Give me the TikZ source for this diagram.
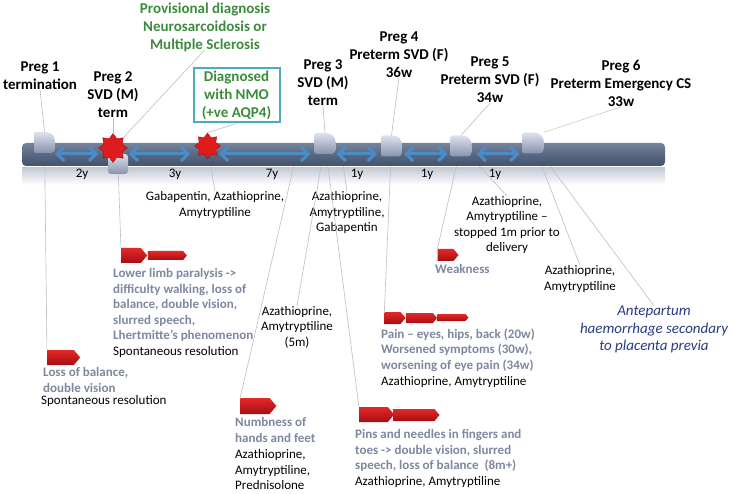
\documentclass[tikz,border=0pt]{standalone}
\usepackage{fontspec}
\setmainfont{Carlito}
\usetikzlibrary{shapes.geometric,shapes.symbols,arrows.meta,calc}
\definecolor{gtext}{RGB}{58,140,58}
\definecolor{boxteal}{RGB}{75,172,190}
\definecolor{symcol}{RGB}{125,135,160}
\definecolor{navy}{RGB}{40,60,130}
\definecolor{arrblue}{RGB}{74,140,200}
\definecolor{leadgray}{RGB}{190,190,190}
\definecolor{leadtan}{RGB}{215,200,175}
\definecolor{bartop}{RGB}{118,132,155}
\definecolor{barmid}{RGB}{88,104,130}
\definecolor{barbot}{RGB}{68,83,108}
\definecolor{refl}{RGB}{196,203,214}
\definecolor{pglight}{RGB}{222,226,238}
\definecolor{pgdark}{RGB}{134,146,174}
\definecolor{redlight}{RGB}{228,40,40}
\definecolor{reddark}{RGB}{165,14,20}
\definecolor{starred}{RGB}{222,28,28}
\begin{document}
\begin{tikzpicture}[x=1pt,y=-1pt,
  hdr/.style={font=\fontsize{15}{18}\selectfont\bfseries, align=center, inner sep=0pt},
  body/.style={font=\fontsize{13}{15.5}\selectfont, align=center, inner sep=0pt},
  bodyl/.style={font=\fontsize{13}{15.5}\selectfont, align=left, inner sep=0pt, anchor=north west},
  sym/.style={font=\fontsize{13}{15.5}\selectfont\bfseries, text=symcol, align=left, inner sep=0pt, anchor=north west},
  ital/.style={font=\fontsize{15}{17.5}\selectfont\itshape, text=navy, align=center, inner sep=0pt},
  lead/.style={draw=leadgray, line width=0.6pt},
  redarr/.style={shape=signal, signal to=east, signal from=nowhere, signal pointer angle=100, inner sep=0pt, top color=redlight, bottom color=reddark, draw=none},
  pshape/.style={rectangle, minimum width=21pt, minimum height=21pt, inner sep=0pt, draw=none,
    path picture={\shade[top color=pglight, bottom color=pgdark]
      (path picture bounding box.south west) [rounded corners=2pt]
      -- (path picture bounding box.north west) [rounded corners=9pt]
      -- (path picture bounding box.north east) [rounded corners=4pt]
      -- (path picture bounding box.south east) [rounded corners=2pt]
      -- cycle;}},
  sqshape/.style={rectangle, minimum size=20pt, inner sep=0pt, rounded corners=3pt, top color=pglight, bottom color=pgdark, draw=none},
  starst/.style={star, star points=8, star point ratio=1.45, minimum size=29pt, inner sep=0pt, fill=starred, draw=reddark, line width=0.4pt},
  dbl/.style={{Straight Barb[length=7pt,width=14pt]}-{Straight Barb[length=7pt,width=14pt]}, draw=arrblue, line width=3pt},
  yl/.style={font=\fontsize{13}{15.5}\selectfont, inner sep=0pt}
]
\useasboundingbox (0,0) rectangle (733,494);

% reflection under bar
\shade[top color=refl, bottom color=white] (22,168) rectangle (665,185);

% named anchor points
\coordinate (ay) at (0,154);
\coordinate (b7) at (294,165);
\coordinate (b1y) at (342,158);

% text blocks
\node[hdr] (h1) at (40,75.5) {Preg 1\\termination};
\node[hdr] (h2) at (113,95) {Preg 2\\SVD (M)\\term};
\node[hdr] (h3) at (323,82.5) {Preg 3\\SVD (M)\\term};
\node[hdr] (h4) at (399,55) {Preg 4\\Preterm SVD (F)\\36w};
\node[hdr] (h5) at (490,80) {Preg 5\\Preterm SVD (F)\\34w};
\node[hdr] (h6) at (621,83.5) {Preg 6\\Preterm Emergency CS\\33w};
\node[hdr, text=gtext] (prov) at (205,27) {Provisional diagnosis\\Neurosarcoidosis or\\Multiple Sclerosis};
\node[hdr, text=gtext, draw=boxteal, line width=2pt, minimum width=86pt, minimum height=54pt] (nmo) at (236.5,95.5) {Diagnosed\\with NMO\\(+ve AQP4)};

\node[body] (gab) at (215,205) {Gabapentin, Azathioprine,\\Amytryptiline};
\node[body] (agg) at (347,213) {Azathioprine,\\Amytryptiline,\\Gabapentin};
\node[body] (a5m) at (297,327) {Azathioprine,\\Amytryptiline\\(5m)};
\node[body] (stop) at (507,225) {Azathioprine,\\Amytryptiline –\\stopped 1m prior to\\delivery};
\node[body] (a6) at (580,279) {Azathioprine,\\Amytryptiline};
\node[ital] (ante) at (654,329.5) {Antepartum\\haemorrhage secondary\\to placenta previa};

\node[sym] (llt) at (113,268.5) {Lower limb paralysis ->\\difficulty walking, loss of\\balance, double vision,\\slurred speech,\\Lhertmitte’s phenomenon};
\node[bodyl] (llr) at (113,346.5) {Spontaneous resolution};
\node[sym] (lbt) at (43,367.5) {Loss of balance,\\double vision};
\node[bodyl] (lbr) at (41,395.5) {Spontaneous resolution};
\node[sym] (nbt) at (235,417.5) {Numbness of\\hands and feet};
\node[bodyl] (nbr) at (235,449.5) {Azathioprine,\\Amytryptiline,\\Prednisolone};
\node[sym] (pat) at (381,328.5) {Pain – eyes, hips, back (20w)\\Worsened symptoms (30w),\\worsening of eye pain (34w)};
\node[bodyl] (par) at (381,376.5) {Azathioprine, Amytryptiline};
\node[sym] (pit) at (355,429.5) {Pins and needles in fingers and\\toes -> double vision, slurred\\speech, loss of balance\ \ (8m+)};
\node[bodyl] (pir) at (355,476.5) {Azathioprine, Amytryptiline};
\node[sym] (wkt) at (435,264.5) {Weakness};

% red arrows
\node[redarr, minimum width=26pt, minimum height=15pt] (ll1) at (131,255.5) {};
\node[redarr, minimum width=39pt, minimum height=9pt] (ll2) at (165.5,255.5) {};
\node[redarr, minimum width=33pt, minimum height=15pt] (lb1) at (60.5,357.5) {};
\node[redarr, minimum width=36pt, minimum height=16pt] (nb1) at (255,406) {};
\node[redarr, minimum width=21pt, minimum height=12pt] (pa1) at (392.5,318) {};
\node[redarr, minimum width=31pt, minimum height=10pt] (pa2) at (419.5,318) {};
\node[redarr, minimum width=31pt, minimum height=7pt] (pa3) at (451.5,317.5) {};
\node[redarr, minimum width=35pt, minimum height=15pt] (pi1) at (373.5,414.5) {};
\node[redarr, minimum width=46pt, minimum height=12pt] (pi2) at (414,415) {};
\node[redarr, minimum width=21pt, minimum height=12pt] (wk1) at (445.5,255) {};

% marker positions
\coordinate (p1c) at (44.5,142.5);
\coordinate (sq2c) at (118,164);
\coordinate (p3c) at (325,143.5);
\coordinate (p4c) at (391.5,146);
\coordinate (p5c) at (461,146);
\coordinate (p6c) at (533,143);
\coordinate (st2c) at (113,148);
\coordinate (st3c) at (207.5,146);

% lower leader lines (the bar covers their upper ends)
\draw[lead] (p1c) -- (lb1.north west);
\draw[lead] (sq2c) -- (ll1.north west);
\draw[lead] (st3c) -- (gab.north);
\draw[lead] (b7) -- (nb1.north west);
\draw[lead] (p3c) -- (a5m.north);
\draw[lead] (p3c) -- (pi1.north west);
\draw[lead] (b1y) -- (agg.north);
\draw[lead] (p4c) -- (pa1.north west);
\draw[lead] (p5c) -- (wk1.north west);
\draw[lead] (p5c) -- (stop.north);
\draw[lead] (p6c) -- (a6.north);
\draw[lead] (p6c) -- (ante.north);

% timeline bar
\node[rectangle, minimum width=643pt, minimum height=23pt, inner sep=0pt, rounded corners=4pt,
      top color=bartop, bottom color=barbot, middle color=barmid, draw=none] (bar) at (343.5,154.5) {};

% markers
\node[sqshape] (sq2) at (sq2c) {};
\node[pshape] (p1) at (p1c) {};
\node[pshape] (p3) at (p3c) {};
\node[pshape] (p4) at (p4c) {};
\node[pshape] (p5) at (p5c) {};
\node[pshape] (p6) at (p6c) {};
\node[starst] (st2) at (st2c) {};
\node[starst, minimum size=26pt] (st3) at (st3c) {};

% interval arrows
\draw[dbl] (p1.east |- ay) -- (st2.west |- ay);
\draw[dbl] ([xshift=1pt]st2.east |- ay) -- ([xshift=-4pt]st3.west |- ay);
\draw[dbl] ([xshift=-2pt]st3.east |- ay) -- ([xshift=-4pt]p3.west |- ay);
\draw[dbl] ([xshift=1pt]p3.east |- ay) -- ([xshift=-4pt]p4.west |- ay);
\draw[dbl] ([xshift=2pt]p4.east |- ay) -- ([xshift=-3pt]p5.west |- ay);
\draw[dbl] ([xshift=5pt]p5.east |- ay) -- ([xshift=-3pt]p6.west |- ay);

% interval labels
\node[yl] (y1) at (82,174) {2y};
\node[yl] (y2) at (175,174) {3y};
\node[yl] (y3) at (272,174) {7y};
\node[yl] (y4) at (357,174) {1y};
\node[yl] (y5) at (427,174) {1y};
\node[yl] (y6) at (495,174) {1y};

% upper leader lines
\draw[lead] (h1.south) -- (p1.north);
\draw[lead] (h2.south) -- (st2.north);
\draw[lead] ([yshift=2pt]prov.south) -- (st2.north east);
\draw[lead] (nmo.south) -- (st3.north);
\draw[lead] (h3.south) -- (p3.north);
\draw[lead] (h4.south) -- (p4.north);
\draw[lead] (h5.south) -- (p5.north);
\draw[draw=leadtan, line width=0.6pt] (h6.south) -- (p6.north east);
\end{tikzpicture}
\end{document}
